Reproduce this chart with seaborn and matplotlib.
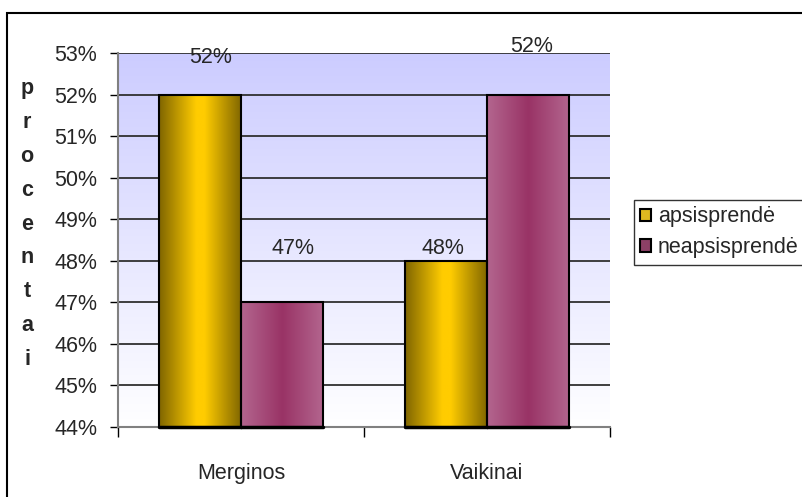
import matplotlib.pyplot as plt
import matplotlib.colors as mcolors
from matplotlib.patches import Rectangle
import seaborn as sns
import numpy as np
import pandas as pd

categories = ['Merginos', 'Vaikinai']
series = ['apsisprendė', 'neapsisprendė']
apsisprende = [52, 48]
neapsisprende = [47, 52]
value_labels = ['52%', '47%', '48%', '52%']
y_ticks = [44, 45, 46, 47, 48, 49, 50, 51, 52, 53]

df = pd.DataFrame({
    'grupe': categories * 2,
    'atsakymas': [series[0]] * 2 + [series[1]] * 2,
    'procentai': apsisprende + neapsisprende,
})

sns.set_theme(style='white')
plt.rcParams['font.family'] = ['Liberation Sans', 'DejaVu Sans']
fs = 15.5

fig = plt.figure(figsize=(8.02, 4.97), dpi=100)
ax = fig.add_axes([118 / 802, 1 - 427 / 497, 492 / 802, 374 / 497])

# background gradient (lavender at the top fading to white)
bg = mcolors.LinearSegmentedColormap.from_list('bg', ['#ffffff', '#ccccff'])
ax.imshow(np.linspace(0, 1, 256).reshape(-1, 1), cmap=bg, aspect='auto',
          extent=(-0.5, 1.5, 44, 53), origin='lower', zorder=0)

palette = {series[0]: '#ffcc00', series[1]: '#993366'}
sns.barplot(data=df, x='grupe', y='procentai', hue='atsakymas', order=categories,
            hue_order=series, palette=palette, width=0.67, ax=ax, legend=True,
            edgecolor='black', linewidth=1.5, zorder=3)

gold = mcolors.LinearSegmentedColormap.from_list(
    'gold', [(0, '#7f6500'), (0.45, '#ffcc00'), (0.55, '#ffcc00'), (1, '#7f6500')])
plum = mcolors.LinearSegmentedColormap.from_list(
    'plum', [(0, '#b3668f'), (0.5, '#993366'), (1, '#b3668f')])
grad = np.linspace(0, 1, 256).reshape(1, -1)
for i, bar in enumerate(ax.patches[:4]):
    x0 = bar.get_x()
    w = bar.get_width()
    h = bar.get_height()
    cm = gold if i < 2 else plum
    im = ax.imshow(grad, cmap=cm, aspect='auto', extent=(x0, x0 + w, 44, h), zorder=3)
    bar.set_facecolor('none')
    bar.set_zorder(4)
    im.set_clip_path(bar)
    ax.plot([x0, x0 + w], [44, 44], color='black', lw=2.5, zorder=5, clip_on=False)

# value labels (Excel places them a bit off the bars)
label_x = [-0.125, 0.21, 0.82, 1.18]
label_y = [52.9, 48.3, 48.3, 53.15]
for xt, yt, s in zip(label_x, label_y, value_labels):
    ax.text(xt, yt, s, ha='center', va='center', fontsize=fs, zorder=6)

ax.set_xlim(-0.5, 1.5)
ax.set_ylim(44, 53)
ax.set_yticks(y_ticks)
ax.set_yticklabels([f'{t}%' for t in y_ticks])
ax.yaxis.grid(True, color='#303030', lw=1.3, zorder=1)
ax.set_axisbelow(True)
for ln in ax.get_ygridlines():
    ln.set_zorder(2)
ax.set_xlabel('')
ax.set_ylabel('')
ax.tick_params(axis='y', left=True, length=6, width=1, color='black', pad=9, labelsize=fs)
ax.tick_params(axis='x', bottom=False, pad=20, labelsize=fs)
ax.set_xticks([-0.5, 0.5, 1.5], minor=True)
ax.tick_params(axis='x', which='minor', bottom=True, length=7, width=1, color='black')
for s in ['top', 'right']:
    ax.spines[s].set_visible(False)
for s in ['left', 'bottom']:
    ax.spines[s].set_color('#808080')
    ax.spines[s].set_linewidth(1.5)

fig.text(27 / 802, 1 - 224 / 497, '\n'.join('procentai'), ha='center', va='center',
         fontsize=fs, fontweight='bold', linespacing=1.8)

leg = ax.legend(loc='upper left', bbox_to_anchor=(634 / 802, 1 - 200 / 497),
                bbox_transform=fig.transFigure, frameon=True, fancybox=False,
                edgecolor='black', fontsize=fs, handlelength=0.5, handleheight=0.5,
                handletextpad=0.3, borderpad=0.3, labelspacing=0.45, borderaxespad=0)
leg.get_frame().set_linewidth(1)
for hnd in leg.legend_handles:
    hnd.set_edgecolor('black')
    hnd.set_linewidth(1.5)

fig.patches.append(Rectangle((7 / 802, -0.05), 1.0, 1 - 13 / 497 + 0.05,
                             transform=fig.transFigure, fill=False,
                             edgecolor='black', lw=1.5))

fig.savefig('out.png', dpi=100)
